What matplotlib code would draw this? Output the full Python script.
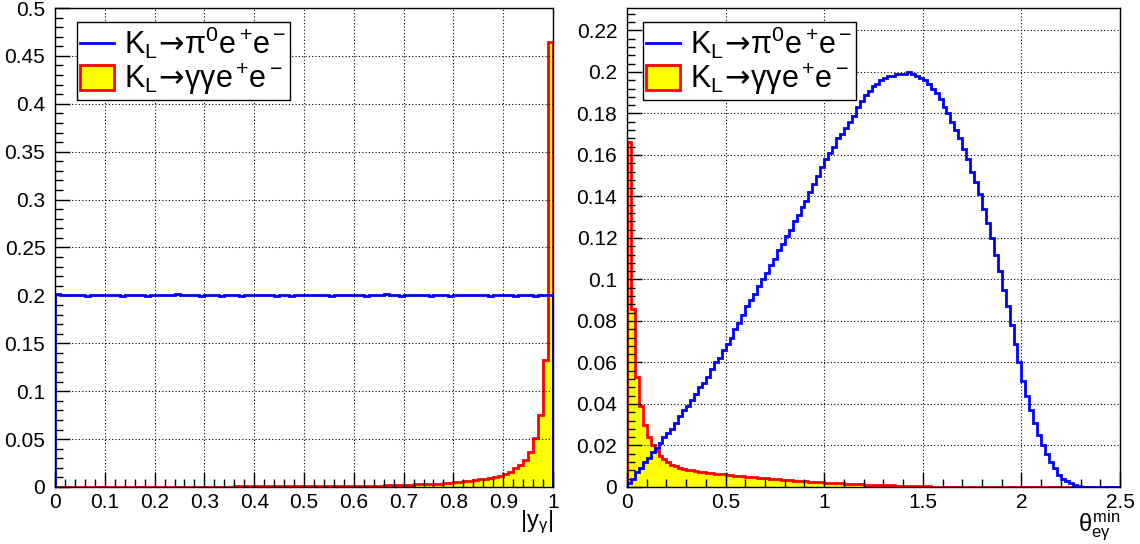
import numpy as np
import matplotlib
matplotlib.use('Agg')
import matplotlib.pyplot as plt
from matplotlib.lines import Line2D
from matplotlib.patches import Patch
from matplotlib.ticker import MultipleLocator, FuncFormatter

plt.rcParams['font.family'] = ['Liberation Sans', 'DejaVu Sans']
plt.rcParams['mathtext.fontset'] = 'custom'
plt.rcParams['mathtext.rm'] = 'Liberation Sans'
plt.rcParams['mathtext.it'] = 'Liberation Sans'
plt.rcParams['mathtext.sf'] = 'DejaVu Sans'
plt.rcParams['mathtext.bf'] = 'Liberation Sans:bold'
plt.rcParams['mathtext.fallback'] = 'stixsans'

# |y_gamma|: 100 bins on [0, 1]
y_range = (0.0, 1.0)
y_pi0 = [
    0.2010, 0.2005, 0.2008, 0.2000, 0.2006, 0.2002, 0.1994, 0.2004, 0.2002, 0.2009,
    0.2000, 0.2006, 0.2002, 0.1996, 0.2005, 0.2000, 0.2007, 0.2002, 0.1992, 0.2004,
    0.2002, 0.2008, 0.2004, 0.2000, 0.2010, 0.2006, 0.2002, 0.2008, 0.2000, 0.1995,
    0.2004, 0.2009, 0.2002, 0.1997, 0.2006, 0.2000, 0.2004, 0.1992, 0.2002, 0.2007,
    0.2000, 0.2004, 0.2008, 0.2002, 0.1996, 0.2004, 0.2000, 0.1995, 0.2006, 0.2002,
    0.2009, 0.2004, 0.2000, 0.2006, 0.2002, 0.1997, 0.2004, 0.2009, 0.2002, 0.2000,
    0.2006, 0.2002, 0.1994, 0.2004, 0.2000, 0.2007, 0.2010, 0.2004, 0.2000, 0.1996,
    0.2004, 0.2002, 0.2008, 0.2000, 0.2004, 0.1996, 0.2002, 0.2006, 0.2000, 0.1994,
    0.2004, 0.2008, 0.2002, 0.2006, 0.2000, 0.2004, 0.2002, 0.1996, 0.2000, 0.2004,
    0.2002, 0.2000, 0.1996, 0.2002, 0.2004, 0.2000, 0.1997, 0.2002, 0.2000, 0.2002,
]
y_gg = [
    0.0004, 0.0004, 0.0004, 0.0004, 0.0004, 0.0004, 0.0004, 0.0004, 0.0004, 0.0004,
    0.0004, 0.0004, 0.0004, 0.0004, 0.0004, 0.0004, 0.0004, 0.0004, 0.0004, 0.0004,
    0.0005, 0.0005, 0.0005, 0.0005, 0.0005, 0.0005, 0.0005, 0.0005, 0.0005, 0.0005,
    0.0005, 0.0005, 0.0005, 0.0005, 0.0005, 0.0005, 0.0007, 0.0007, 0.0007, 0.0007,
    0.0007, 0.0007, 0.0007, 0.0007, 0.0007, 0.0007, 0.0007, 0.0007, 0.0007, 0.0007,
    0.0009, 0.0009, 0.0009, 0.0009, 0.0009, 0.0009, 0.0009, 0.0009, 0.0009, 0.0009,
    0.0011, 0.0011, 0.0011, 0.0011, 0.0012, 0.0012, 0.0017, 0.0017, 0.0020, 0.0022,
    0.0024, 0.0025, 0.0027, 0.0029, 0.0031, 0.0033, 0.0035, 0.0036, 0.0038, 0.0042,
    0.0047, 0.0052, 0.0059, 0.0066, 0.0073, 0.0080, 0.0088, 0.0098, 0.0108, 0.0120,
    0.0136, 0.0160, 0.0196, 0.0230, 0.0280, 0.0370, 0.0510, 0.0755, 0.1330, 0.4650,
]

# theta_min(e, gamma): 125 bins on [0, 2.5]
t_range = (0.0, 2.5)
t_pi0 = [
    0.002, 0.004, 0.007, 0.009, 0.012, 0.014, 0.017, 0.019, 0.021, 0.024,
    0.026, 0.028, 0.031, 0.034, 0.037, 0.039, 0.042, 0.045, 0.048, 0.050,
    0.053, 0.057, 0.060, 0.062, 0.066, 0.069, 0.072, 0.076, 0.079, 0.083,
    0.087, 0.090, 0.093, 0.097, 0.100, 0.103, 0.107, 0.110, 0.114, 0.117,
    0.121, 0.124, 0.128, 0.131, 0.135, 0.138, 0.142, 0.146, 0.150, 0.154,
    0.158, 0.161, 0.164, 0.168, 0.170, 0.173, 0.176, 0.179, 0.183, 0.186,
    0.189, 0.191, 0.193, 0.194, 0.196, 0.197, 0.198, 0.198, 0.199, 0.199,
    0.199, 0.200, 0.199, 0.198, 0.197, 0.196, 0.194, 0.192, 0.190, 0.187,
    0.183, 0.180, 0.176, 0.172, 0.168, 0.163, 0.158, 0.152, 0.147, 0.141,
    0.134, 0.127, 0.120, 0.112, 0.104, 0.095, 0.087, 0.078, 0.069, 0.060,
    0.051, 0.044, 0.037, 0.031, 0.025, 0.020, 0.016, 0.012, 0.009, 0.006,
    0.004, 0.003, 0.002, 0.001, 0.0005, 0.0, 0.0, 0.0, 0.0, 0.0,
    0.0, 0.0, 0.0, 0.0, 0.0,
]
t_gg = [
    0.166, 0.086, 0.053, 0.039, 0.030, 0.024, 0.020, 0.0175, 0.0150, 0.0135,
    0.0120, 0.0108, 0.0100, 0.0093, 0.0088, 0.0084, 0.0080, 0.0077, 0.0074, 0.0071,
    0.0069, 0.0067, 0.0065, 0.0063, 0.0061, 0.0059, 0.0057, 0.0055, 0.0053, 0.0051,
    0.0050, 0.0048, 0.0046, 0.0045, 0.0043, 0.0041, 0.0040, 0.0038, 0.0037, 0.0035,
    0.0034, 0.0032, 0.0031, 0.0030, 0.0028, 0.0027, 0.0026, 0.0024, 0.0023, 0.0022,
    0.0021, 0.0020, 0.0019, 0.0018, 0.0017, 0.0016, 0.0015, 0.0015, 0.0014, 0.0013,
    0.0012, 0.0011, 0.0011, 0.0010, 0.0010, 0.0009, 0.0008, 0.0008, 0.0007, 0.0007,
    0.0006, 0.0006, 0.0005, 0.0005, 0.0004, 0.0004, 0.0003, 0.0002, 0.0002, 0.0001,
    0.0001, 0.0, 0.0, 0.0, 0.0, 0.0, 0.0, 0.0, 0.0, 0.0,
    0.0, 0.0, 0.0, 0.0, 0.0, 0.0, 0.0, 0.0, 0.0, 0.0,
    0.0, 0.0, 0.0, 0.0, 0.0, 0.0, 0.0, 0.0, 0.0, 0.0,
    0.0, 0.0, 0.0, 0.0, 0.0, 0.0, 0.0, 0.0, 0.0, 0.0,
    0.0, 0.0, 0.0, 0.0, 0.0,
]

label_pi0 = r'$\mathrm{K_L}\!\mathsf{\rightarrow}\!\mathrm{\pi^0e^+\!e^-}$'
label_gg = r'$\mathrm{K_L}\!\mathsf{\rightarrow}\!\mathrm{\gamma\gamma e^+\!e^-}$'

BLUE = '#0000ff'
RED = '#ff0000'
YELLOW = '#ffff00'
TICK_FS = 15
LEG_FS = 22


def fmt(v, pos):
    return '%g' % round(v, 6)


def draw_panel(ax, xr, pi0, gg, xlim, ylim, xmaj, xmin, ymaj, ymin, xlabel, leg_x):
    edges = np.linspace(xr[0], xr[1], len(pi0) + 1)
    ax.stairs(gg, edges, fill=True, color=YELLOW, zorder=1)
    ax.stairs(gg, edges, color=RED, linewidth=2, zorder=2)
    ax.stairs(pi0, edges, color=BLUE, linewidth=2, zorder=3)

    ax.set_xlim(*xlim)
    ax.set_ylim(*ylim)
    ax.xaxis.set_major_locator(MultipleLocator(xmaj))
    ax.xaxis.set_minor_locator(MultipleLocator(xmin))
    ax.yaxis.set_major_locator(MultipleLocator(ymaj))
    ax.yaxis.set_minor_locator(MultipleLocator(ymin))
    ax.xaxis.set_major_formatter(FuncFormatter(fmt))
    ax.yaxis.set_major_formatter(FuncFormatter(fmt))
    ax.tick_params(which='both', direction='in', labelsize=TICK_FS, width=1, color='black')
    ax.tick_params(which='major', length=11)
    ax.tick_params(which='minor', length=5.5)
    ax.tick_params(axis='x', pad=4)
    ax.tick_params(axis='y', pad=7)
    ax.grid(True, which='major', linestyle=(0, (1, 2)), color='black', linewidth=0.8)
    ax.set_axisbelow(False)
    for s in ax.spines.values():
        s.set_linewidth(1)
        s.set_zorder(5)

    ax.set_xlabel(xlabel, loc='right', fontsize=17, labelpad=-2)

    handles = [Line2D([], [], color=BLUE, linewidth=2),
               Patch(facecolor=YELLOW, edgecolor=RED, linewidth=2)]
    leg = ax.legend(handles, [label_pi0, label_gg], loc='upper left',
                    bbox_to_anchor=(leg_x, 0.971), borderaxespad=0,
                    fontsize=LEG_FS, frameon=True, fancybox=False, framealpha=1,
                    edgecolor='black', handlelength=1.1, handleheight=0.9,
                    handletextpad=0.35, borderpad=0.1, labelspacing=0.0)
    leg.get_frame().set_linewidth(1)
    leg.set_zorder(10)


fig = plt.figure(figsize=(11.4, 5.44), dpi=100)
ax1 = fig.add_axes([55 / 1140, 1 - 487 / 544, 498 / 1140, 479 / 544])
ax2 = fig.add_axes([627 / 1140, 1 - 487 / 544, 493 / 1140, 479 / 544])

draw_panel(ax1, y_range, y_pi0, y_gg, (0, 1), (0, 0.5), 0.1, 0.02, 0.05, 0.01,
           r'$|\mathrm{y}_{\gamma}|$', 22 / 498)
draw_panel(ax2, t_range, t_pi0, t_gg, (0, 2.5), (0, 0.2308), 0.5, 0.1, 0.02, 0.004,
           r'$\theta^{\mathrm{min}}_{\mathrm{e}\gamma}$', 16 / 493)

fig.savefig('out.png', dpi=100)
